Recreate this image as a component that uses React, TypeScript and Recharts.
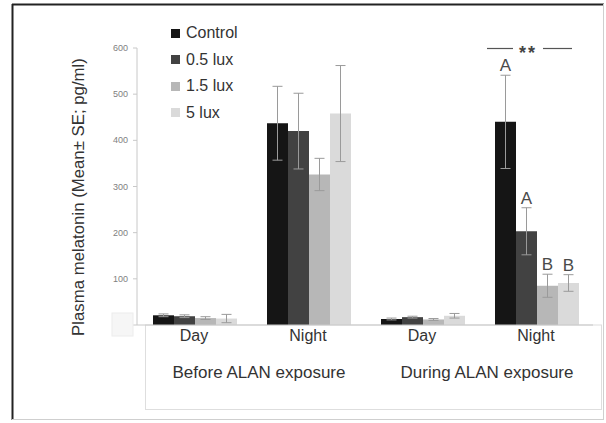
import React from "react";
import {
  BarChart,
  Bar,
  XAxis,
  YAxis,
  ErrorBar,
  LabelList,
  Legend,
} from "recharts";

const categories = ["Day", "Night", "Day", "Night"];
const groups = ["Before ALAN exposure", "During ALAN exposure"];
const yTicks = [0, 100, 200, 300, 400, 500, 600];

const seriesNames = ["Control", "0.5 lux", "1.5 lux", "5 lux"];
const seriesColors = ["#151515", "#424242", "#b7b7b7", "#dadada"];

const control = [21, 437, 13, 440];
const controlErr = [3, 80, 2, 101];
const lux05 = [19, 420, 17, 203];
const lux05Err = [3, 82, 2, 51];
const lux15 = [15, 326, 12, 85];
const lux15Err = [3, 35, 2, 25];
const lux5 = [14, 458, 20, 91];
const lux5Err = [9, 104, 5, 18];

// letters over the "During ALAN" night bars
const controlLetters = ["", "", "", "A"];
const lux05Letters = ["", "", "", "A"];
const lux15Letters = ["", "", "", "B"];
const lux5Letters = ["", "", "", "B"];

const values = [control, lux05, lux15, lux5];
const errors = [controlErr, lux05Err, lux15Err, lux5Err];
const letters = [controlLetters, lux05Letters, lux15Letters, lux5Letters];

const data = categories.map((c, i) => ({
  key: `c${i}`,
  name: c,
  group: groups[Math.floor(i / 2)],
  s0: control[i],
  e0: controlErr[i],
  l0: controlLetters[i],
  s1: lux05[i],
  e1: lux05Err[i],
  l1: lux05Letters[i],
  s2: lux15[i],
  e2: lux15Err[i],
  l2: lux15Letters[i],
  s3: lux5[i],
  e3: lux5Err[i],
  l3: lux5Letters[i],
}));

const FONT = "'Liberation Sans', Arial, sans-serif";

const YTick = (props: any) => {
  const { x, y, payload } = props;
  if (payload.value === 0) {
    return (
      <rect x={x - 16} y={y - 12} width={21} height={23} fill="#f6f6f6" stroke="#ececec" />
    );
  }
  return (
    <text x={x} y={y} dy={3} textAnchor="end" fontSize={9} fill="#808080" fontFamily={FONT}>
      {payload.value}
    </text>
  );
};

const XTick = (props: any) => {
  const { x, y, payload, index } = props;
  const label = categories[index] ?? payload.value;
  return (
    <g>
      <text x={x} y={y + 16} textAnchor="middle" fontSize={16} fill="#333" fontFamily={FONT}>
        {label}
      </text>
      {index % 2 === 1 && (
        <text x={x - 49} y={y + 53} textAnchor="middle" fontSize={17} fill="#333" fontFamily={FONT}>
          {groups[Math.floor(index / 2)]}
        </text>
      )}
    </g>
  );
};

const makeLetter = (s: number) => (props: any) => {
  const { x, y, width, height, index } = props;
  const txt = letters[s][index];
  if (!txt) return null;
  const v = values[s][index];
  const k = height / v;
  const top = y - errors[s][index] * k;
  return (
    <text x={x + width / 2} y={top - 4} textAnchor="middle" fontSize={17} fill="#4a4a4a" fontFamily={FONT}>
      {txt}
    </text>
  );
};

const renderLegend = (props: any) => {
  const payload = [...(props.payload || [])].sort(
    (a: any, b: any) => seriesNames.indexOf(a.value) - seriesNames.indexOf(b.value)
  );
  return (
    <div style={{ fontFamily: FONT }}>
      {payload.map((p: any) => (
        <div key={p.value} style={{ display: "flex", alignItems: "center", height: 26.5 }}>
          <span
            style={{ display: "inline-block", width: 9, height: 9, background: p.color, marginRight: 6 }}
          />
          <span style={{ fontSize: 16, color: "#333" }}>{p.value}</span>
        </div>
      ))}
    </div>
  );
};

export default function App() {
  return (
    <div style={{ position: "absolute", left: 0, top: 0, width: 606, height: 423, background: "#fff" }}>
      <svg width={606} height={423} style={{ position: "absolute", left: 0, top: 0 }}>
        <rect x={145.5} y={325} width={456} height={84.5} fill="#fff" stroke="#dedede" />
      </svg>
      <div style={{ position: "absolute", left: 0, top: 0 }}>
        <BarChart
          width={606}
          height={423}
          data={data}
          margin={{ top: 48, right: 13, bottom: 68, left: 107 }}
          barGap={0}
          barCategoryGap={16}
        >
          <XAxis
            dataKey="key"
            height={30}
            axisLine={{ stroke: "#c8c8c8" }}
            tickLine={false}
            tickSize={0}
            tickMargin={0}
            interval={0}
            tick={<XTick />}
          />
          <YAxis
            width={30}
            domain={[0, 600]}
            ticks={yTicks}
            interval={0}
            axisLine={{ stroke: "#c8c8c8" }}
            tickLine={{ stroke: "#c8c8c8" }}
            tickSize={4}
            tickMargin={5}
            tick={<YTick />}
            label={{
              content: () => (
                <text
                  transform="translate(84,197) rotate(-90)"
                  textAnchor="middle"
                  fontSize={16.8}
                  fill="#333"
                  fontFamily={FONT}
                >
                  Plasma melatonin (Mean± SE; pg/ml)
                </text>
              ),
            }}
          />
          <Legend
            layout="vertical"
            align="center"
            verticalAlign="middle"
            wrapperStyle={{ position: "absolute", left: 171, top: 20, width: 110 }}
            content={renderLegend}
          />
          {seriesNames.map((n, s) => (
            <Bar
              key={n}
              dataKey={`s${s}`}
              name={n}
              fill={seriesColors[s]}
              isAnimationActive={false}
            >
              <ErrorBar dataKey={`e${s}`} width={5} stroke="#9a9a9a" strokeWidth={1} />
              <LabelList dataKey={`l${s}`} content={makeLetter(s)} />
            </Bar>
          ))}
        </BarChart>
      </div>
      <svg
        width={606}
        height={423}
        style={{ position: "absolute", left: 0, top: 0, pointerEvents: "none" }}
      >
        <line x1={487} x2={513} y1={48.5} y2={48.5} stroke="#555" strokeWidth={1.2} />
        <line x1={543} x2={572} y1={48.5} y2={48.5} stroke="#555" strokeWidth={1.2} />
        <text x={528} y={59} textAnchor="middle" fontSize={18} fontWeight="bold" fill="#444" letterSpacing={2} fontFamily={FONT}>
          **
        </text>
        <line x1={12.5} y1={4} x2={12.5} y2={420} stroke="#222" strokeWidth={2} />
        <line x1={12} y1={4.5} x2={604} y2={4.5} stroke="#222" strokeWidth={2} />
        <line x1={603.5} y1={4} x2={603.5} y2={420} stroke="#cfcfcf" strokeWidth={1} />
        <line x1={12} y1={419.5} x2={604} y2={419.5} stroke="#cfcfcf" strokeWidth={1} />
      </svg>
    </div>
  );
}
